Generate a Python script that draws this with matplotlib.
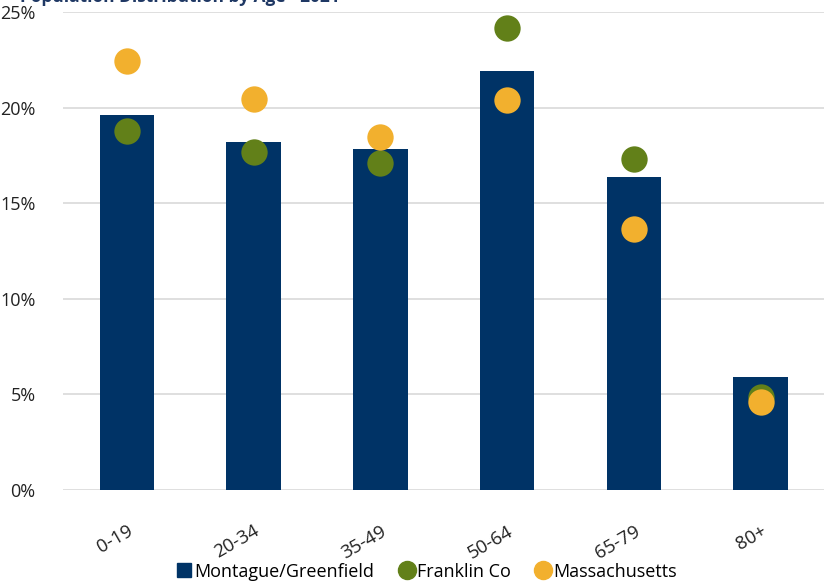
import matplotlib
matplotlib.use("Agg")
import matplotlib.pyplot as plt
import numpy as np
from matplotlib.lines import Line2D

plt.rcParams['font.family'] = ['Open Sans', 'DejaVu Sans']

# age groups and population shares (%)
ages = ["0-19", "20-34", "35-49", "50-64", "65-79", "80+"]
montague = [19.6, 18.2, 17.85, 21.9, 16.4, 5.9]
franklin = [18.8, 17.7, 17.1, 24.2, 17.3, 4.85]
mass = [22.45, 20.45, 18.45, 20.4, 13.65, 4.6]

navy = "#003366"
green = "#628019"
gold = "#f2b02e"

fig = plt.figure(figsize=(8.24, 5.82), dpi=100)
ax = fig.add_axes([0.077, 0.158, 0.923, 0.821])

x = np.arange(len(ages))
ax.bar(x, montague, width=0.43, color=navy, zorder=2)
ax.scatter(x, franklin, s=360, color=green, zorder=3, linewidths=0)
ax.scatter(x, mass, s=360, color=gold, zorder=4, linewidths=0)

ax.set_xlim(-0.5, len(ages) - 0.5)
ax.set_ylim(0, 25)
ax.set_yticks([0, 5, 10, 15, 20, 25])
ax.set_yticklabels([f"{v}%" for v in [0, 5, 10, 15, 20, 25]])
ax.yaxis.grid(True, color="#d9d9d9", linewidth=1.2, zorder=0)
ax.set_axisbelow(True)
for s in ax.spines.values():
    s.set_visible(False)
ax.tick_params(axis="y", length=0, pad=20, labelsize=13, colors="#222222")
ax.tick_params(axis="x", length=0, pad=23, labelsize=13.5, colors="#222222")
ax.set_xticks(x)
ax.set_xticklabels(ages, rotation=30, ha="right", rotation_mode="anchor")

fig.text(0.024, 0.9966, "Population Distribution by Age - 2021", fontsize=12.5,
         fontweight="bold", color="#1f3864", va="baseline", ha="left")

handles = [
    Line2D([], [], marker="s", linestyle="none", markersize=10, color=navy),
    Line2D([], [], marker="o", linestyle="none", markersize=13, color=green),
    Line2D([], [], marker="o", linestyle="none", markersize=13, color=gold),
]
fig.legend(handles, ["Montague/Greenfield", "Franklin Co", "Massachusetts"],
           loc="center", bbox_to_anchor=(0.517, 0.018), ncol=3, frameon=False,
           fontsize=13, handletextpad=0.05, columnspacing=1.3, handlelength=1.0)

fig.savefig("out.png", dpi=100)
